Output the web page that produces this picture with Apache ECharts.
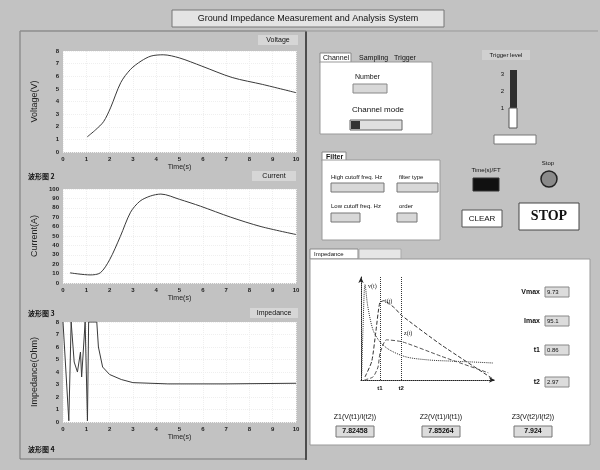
<!DOCTYPE html>
<html><head><meta charset="utf-8">
<script src="https://cdn.jsdelivr.net/npm/echarts@6/dist/echarts.min.js"></script>
<style>html,body{margin:0;padding:0;background:#c2c2c2}#c{width:600px;height:470px}</style>
</head><body><div id="c"></div>
<script>
// ---- data ----
const xTickLabels = ['0','1','2','3','4','5','6','7','8','9','10'];
const voltageTicks = ['0','1','2','3','4','5','6','7','8'];
const currentTicks = ['0','10','20','30','40','50','60','70','80','90','100'];
const impedanceTicks = ['0','1','2','3','4','5','6','7','8'];

const voltageTime  = [1.04, 1.4, 1.74, 2.04, 2.48, 2.9, 3.35, 3.78, 4.3, 5.0, 5.96, 7.26, 8.57, 10.0];
const voltageValue = [1.2, 1.76, 2.4, 3.5, 5.5, 6.55, 7.2, 7.6, 7.7, 7.45, 6.8, 5.9, 5.35, 4.7];

const currentTime  = [0.3, 1.16, 1.6, 2.0, 2.46, 2.9, 3.3, 3.75, 4.2, 5.0, 5.9, 7.2, 8.5, 10.0];
const currentValue = [10.8, 8.6, 10.8, 24.7, 49.5, 75.3, 87, 92.5, 94.6, 89, 81.7, 70, 60, 51.6];

const impedanceTime  = [0.0, 0.25, 0.35, 0.42, 0.48, 0.62, 0.75, 0.8, 0.95, 1.05, 1.1, 1.45, 1.52, 1.7, 2.0, 2.5, 3.0, 4.5, 7.0, 10.0];
const impedanceValue = [8.0, 0.1, 8.0, 8.0, 4.8, 4.0, 5.6, 3.6, 8.0, 0.1, 8.0, 8.0, 6.0, 4.4, 3.8, 3.4, 3.15, 3.05, 3.05, 3.1];

const diagVTime  = [0.05, 0.15, 0.3, 0.5, 0.9, 1.42, 2.16, 3.4, 5.1, 6.6, 8.3, 9.85];
const diagVValue = [0.5, 5.0, 9.3, 7.2, 4.85, 3.7, 2.9, 2.23, 1.94, 1.84, 1.75, 1.65];
const diagITime  = [0.3, 0.8, 1.1, 1.4, 1.7, 2.5, 3.0, 6.0, 9.85];
const diagIValue = [0.3, 1.8, 4.6, 7.5, 7.7, 7.0, 6.3, 3.4, 0.1];
const diagZTime  = [0.25, 0.9, 1.27, 1.42, 1.9, 3.1, 6.0, 9.5];
const diagZValue = [0.0, 0.3, 1.26, 2.6, 3.9, 3.7, 2.3, 0.7];
const markTimes = [1.42, 2.99];
const markNames = ['t1', 't2'];

const readouts = [['Vmax','9.73'],['Imax','95.1'],['t1','0.86'],['t2','2.97']];
const zNames = ['Z1(V(t1)/I(t2))','Z2(V(t1)/I(t1))','Z3(V(t2)/I(t2))'];
const zValues = ['7.82458','7.85264','7.924'];

// ---- helpers ----
const pairs = (xs, ys) => xs.map((x, i) => [x, ys[i]]);
const FONT = 'Liberation Sans, Arial, sans-serif';
function R(x,y,w,h,fill,stroke,extra){return Object.assign({type:'rect',shape:{x,y,width:w,height:h},style:{fill:fill||'none',stroke:stroke||null,lineWidth:1}},extra||{});}
function T(x,y,text,size,opt){opt=opt||{};return {type:'text',x,y,z:10,style:{text,fontSize:size||7,fontFamily:opt.font||FONT,fontWeight:opt.bold?'bold':'normal',fill:opt.color||'#111',align:opt.align||'left',verticalAlign:'middle'}};}

const chart = echarts.init(document.getElementById('c'), null, {renderer:'canvas'});

const grids = [
  {left:63, top:51, width:233, height:101},
  {left:63, top:189, width:233, height:94},
  {left:63, top:322, width:233, height:100},
  {left:361, top:277, width:134, height:103}
].map(g => Object.assign({show:true, backgroundColor:'#ffffff', borderWidth:0, containLabel:false}, g));
grids[3].backgroundColor = 'transparent';

function xA(gi, ticks){
  return {gridIndex:gi, type:'value', min:0, max:10, interval:1,
    name:'Time(s)', nameLocation:'middle', nameGap:12, nameTextStyle:{fontSize:7,color:'#222'},
    axisLine:{show:false}, axisTick:{show:false},
    splitLine:{show:true, lineStyle:{color:'#efefef', type:'dotted'}},
    axisLabel:{fontSize:6, color:'#222', fontWeight:'bold', margin:4, formatter:v=>ticks[Math.round(v)]}};
}
function yA(gi, name, max, interval, ticks, div){
  return {gridIndex:gi, type:'value', min:0, max, interval,
    name, nameLocation:'middle', nameGap:24, nameTextStyle:{fontSize:9,color:'#222'},
    axisLine:{show:false}, axisTick:{show:false},
    splitLine:{show:true, lineStyle:{color:'#efefef', type:'dotted'}},
    axisLabel:{fontSize:6, color:'#222', fontWeight:'bold', margin:4, formatter:v=>ticks[Math.round(v/div)]}};
}

const lineStyle = {color:'#3a3a3a', width:1};

const graphics = [
  // frames
  R(20,31,286,428,'none','#777'),
  {type:'line',shape:{x1:306,y1:31,x2:306,y2:460},style:{stroke:'#333',lineWidth:1.5}},
  {type:'line',shape:{x1:20,y1:31,x2:598,y2:31},style:{stroke:'#999',lineWidth:1}},
  // title
  R(172,10,272,17,'#e4e4e4','#777'),
  T(308,18.5,'Ground Impedance Measurement and Analysis System',9,{align:'center'}),
  // left panel captions
  R(258,35,40,10,'#d6d6d6',null), T(278,40,'Voltage',7,{align:'center'}),
  R(252,171,44,10,'#d6d6d6',null), T(274,176,'Current',7,{align:'center'}),
  R(250,308,48,10,'#d6d6d6',null), T(274,313,'Impedance',7,{align:'center'}),
  T(28,176,'波形图 2',7,{bold:true,font:'Noto Sans CJK SC'}),
  T(28,313,'波形图 3',7,{bold:true,font:'Noto Sans CJK SC'}),
  T(28,449,'波形图 4',7,{bold:true,font:'Noto Sans CJK SC'}),
  // channel tab control
  R(320,53,31,10,'#ffffff','#888'),
  T(323,58,'Channel',7),
  T(359,58,'Sampling',7),
  T(394,58,'Trigger',7),
  R(320,62,112,72,'#ffffff','#999'),
  T(355,77,'Number',7),
  R(353,84,34,9,'#d8d8d8','#888'),
  T(352,110,'Channel mode',8),
  R(350,120,52,10,'#e0e0e0','#666'),
  R(351,121,9,8,'#333',null),
  // trigger level slider
  R(482,50,48,10,'#d0d0d0',null),
  T(506,55,'Trigger level',6,{align:'center'}),
  T(504,74,'3',6,{align:'right'}), T(504,91,'2',6,{align:'right'}), T(504,108,'1',6,{align:'right'}),
  R(510,70,7,40,'#2e2e2e',null),
  R(509,108,8,20,'#ffffff','#555'),
  R(494,135,42,9,'#ffffff','#777'),
  // filter tab
  R(322,152,24,9,'#ffffff','#888'),
  T(326,157,'Filter',7,{bold:true}),
  R(322,160,118,80,'#ffffff','#999'),
  T(331,177,'High cutoff freq. Hz',6),
  R(331,183,53,9,'#d8d8d8','#777'),
  T(399,177,'filter type',6),
  R(397,183,41,9,'#d8d8d8','#777'),
  T(331,206,'Low cutoff freq. Hz',6),
  R(331,213,29,9,'#d8d8d8','#777'),
  T(399,206,'order',6),
  R(397,213,20,9,'#d8d8d8','#777'),
  // indicators & buttons
  T(486,170,'Time(s)/FT',6,{align:'center'}),
  R(473,178,26,13,'#111111','#333'),
  T(548,163,'Stop',6,{align:'center'}),
  {type:'circle',shape:{cx:549,cy:179,r:8},style:{fill:'#8a8a8a',stroke:'#222',lineWidth:1.5}},
  R(462,210,40,17,'#ffffff','#555'),
  T(482,218.5,'CLEAR',8,{align:'center'}),
  R(519,203,60,27,'#ffffff','#444'),
  T(549,216.5,'STOP',14,{align:'center',bold:true,font:'Liberation Serif, serif'}),
  // impedance tab panel
  R(310,249,48,10,'#ffffff','#888'),
  T(314,254,'Impedance',6),
  R(359,249,42,10,'#e6e6e6','#aaa'),
  R(310,259,280,186,'#ffffff','#999')
];
readouts.forEach((r,i)=>{
  const ys=[292,321,350,382][i];
  graphics.push(T(540,ys,r[0],7,{align:'right',bold:true}));
  graphics.push(R(545,ys-5,24,10,'#dcdcdc','#888'));
  graphics.push(T(547,ys,r[1],6));
});
zNames.forEach((n,i)=>{
  const cx=[355,441,533][i];
  graphics.push(T(cx,417,n,7,{align:'center'}));
  graphics.push(R(cx-19,426,38,11,'#dcdcdc','#777'));
  graphics.push(T(cx,431.5,zValues[i],7,{align:'center',bold:true}));
});
graphics.push(T(368,286,'v(t)',6,{font:'Liberation Serif, serif'}));
graphics.push(T(385,301,'i(t)',6,{font:'Liberation Serif, serif'}));
graphics.push(T(404,333,'z(t)',6,{font:'Liberation Serif, serif'}));

const option = {
  backgroundColor:'#c2c2c2',
  animation:false,
  grid:grids,
  xAxis:[xA(0,xTickLabels), xA(1,xTickLabels), xA(2,xTickLabels),
    {gridIndex:3, type:'value', min:0, max:10, axisTick:{show:false}, axisLabel:{show:false}, splitLine:{show:false},
     axisLine:{show:true, symbol:['none','arrow'], symbolSize:[4,6], lineStyle:{color:'#222', type:'dotted'}}}],
  yAxis:[yA(0,'Voltage(V)',8,1,voltageTicks,1), yA(1,'Current(A)',100,10,currentTicks,10), yA(2,'Impedance(Ohm)',8,1,impedanceTicks,1),
    {gridIndex:3, type:'value', min:0, max:10, axisTick:{show:false}, axisLabel:{show:false}, splitLine:{show:false},
     axisLine:{show:true, symbol:['none','arrow'], symbolSize:[4,6], lineStyle:{color:'#222', type:'dotted'}}}],
  series:[
    {type:'line', xAxisIndex:0, yAxisIndex:0, data:pairs(voltageTime,voltageValue), smooth:0.3, showSymbol:false, lineStyle},
    {type:'line', xAxisIndex:1, yAxisIndex:1, data:pairs(currentTime,currentValue), smooth:0.3, showSymbol:false, lineStyle},
    {type:'line', xAxisIndex:2, yAxisIndex:2, data:pairs(impedanceTime,impedanceValue), showSymbol:false, lineStyle},
    {type:'line', xAxisIndex:3, yAxisIndex:3, data:pairs(diagVTime,diagVValue), smooth:0.3, showSymbol:false, lineStyle:{color:'#333',width:1,type:'dotted'},
      markLine:{silent:true, symbol:'none', lineStyle:{color:'#333', type:'dotted', width:1},
        label:{position:'start', fontSize:6, fontWeight:'bold', color:'#111', formatter:p=>p.name},
        data:markTimes.map((t,i)=>({xAxis:t, name:markNames[i]}))}},
    {type:'line', xAxisIndex:3, yAxisIndex:3, data:pairs(diagITime,diagIValue), smooth:0.2, showSymbol:false, lineStyle:{color:'#333',width:1,type:'dashed'}},
    {type:'line', xAxisIndex:3, yAxisIndex:3, data:pairs(diagZTime,diagZValue), smooth:0.2, showSymbol:false, lineStyle:{color:'#555',width:1,type:'dashed'}}
  ],
  graphic:graphics
};
chart.setOption(option);
</script></body></html>
